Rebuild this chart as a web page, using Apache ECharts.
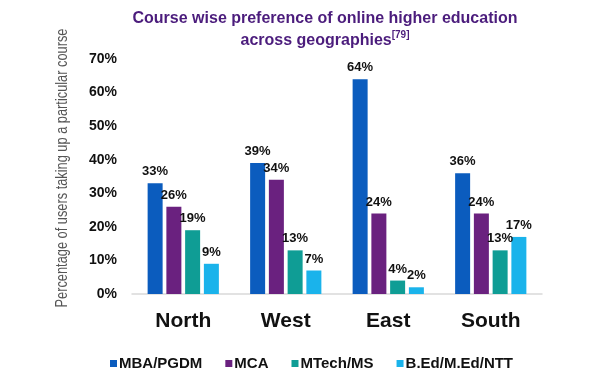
<!DOCTYPE html>
<html>
<head>
<meta charset="utf-8">
<script src="https://cdn.jsdelivr.net/npm/echarts@6/dist/echarts.min.js"></script>
<style>
  html, body { margin: 0; padding: 0; background: #fff; }
  #chart { width: 602px; height: 377px; }
</style>
</head>
<body>
<div id="chart"></div>
<script>
const regions = ['North', 'West', 'East', 'South']
const courses = ['MBA/PGDM', 'MCA', 'MTech/MS', 'B.Ed/M.Ed/NTT']
const mba = [33, 39, 64, 36]
const mca = [26, 34, 24, 24]
const mtech = [19, 13, 4, 13]
const bed = [9, 7, 2, 17]
const colors = ['#0b5cbe', '#6a217f', '#0f9d95', '#1ab3eb']

const values = [mba, mca, mtech, bed]

const chart = echarts.init(document.getElementById('chart'))

chart.setOption({
  animation: false,
  color: colors,
  title: {
    left: 320,
    textAlign: 'center',
    top: 3,
    text: '{t|Course wise preference of online higher education}\n{t|across geographies}{s|[79]}',
    textStyle: {
      rich: {
        t: { fontFamily: 'Liberation Sans', fontWeight: 'bold', fontSize: 16, color: '#4b1c7c', lineHeight: 22 },
        s: { fontFamily: 'Liberation Sans', fontWeight: 'bold', fontSize: 10, color: '#4b1c7c', verticalAlign: 'top', padding: [0, 0, 8, 0] },
      },
    },
  },
  graphic: [{
    type: 'text',
    x: 63,
    y: 168,
    rotation: Math.PI / 2,
    scaleX: 0.8,
    style: {
      text: 'Percentage of users taking up a particular course',
      fontFamily: 'Liberation Sans',
      fontSize: 16,
      fill: '#555',
      align: 'center',
      verticalAlign: 'middle',
    },
  }],
  legend: {
    left: 105,
    top: 351,
    icon: 'rect',
    itemWidth: 7,
    itemHeight: 7,
    itemGap: 23,
    textStyle: { fontFamily: 'Liberation Sans', fontWeight: 'bold', fontSize: 15, color: '#111', padding: [0, 0, 0, -3] },
    data: courses,
  },
  grid: { left: 132, right: 60, top: 59, bottom: 83 },
  xAxis: {
    type: 'category',
    data: regions,
    axisTick: { show: false },
    axisLine: { lineStyle: { color: '#d9d9d9', width: 1.5 } },
    axisLabel: { fontFamily: 'Liberation Sans', fontWeight: 'bold', fontSize: 21, color: '#111', margin: 17 },
  },
  yAxis: {
    type: 'value',
    min: 0,
    max: 70,
    interval: 10,
    splitLine: { show: false },
    axisLabel: {
      formatter: '{value}%',
      fontFamily: 'Liberation Sans',
      fontWeight: 'bold',
      fontSize: 14,
      color: '#111',
      margin: 15,
    },
  },
  series: courses.map((name, i) => ({
    name,
    type: 'bar',
    data: values[i],
    barWidth: 15,
    barGap: '25%',
    label: {
      show: true,
      position: 'top',
      distance: 5,
      formatter: '{c}%',
      fontFamily: 'Liberation Sans',
      fontWeight: 'bold',
      fontSize: 13,
      color: '#111',
    },
  })),
})
</script>
</body>
</html>
